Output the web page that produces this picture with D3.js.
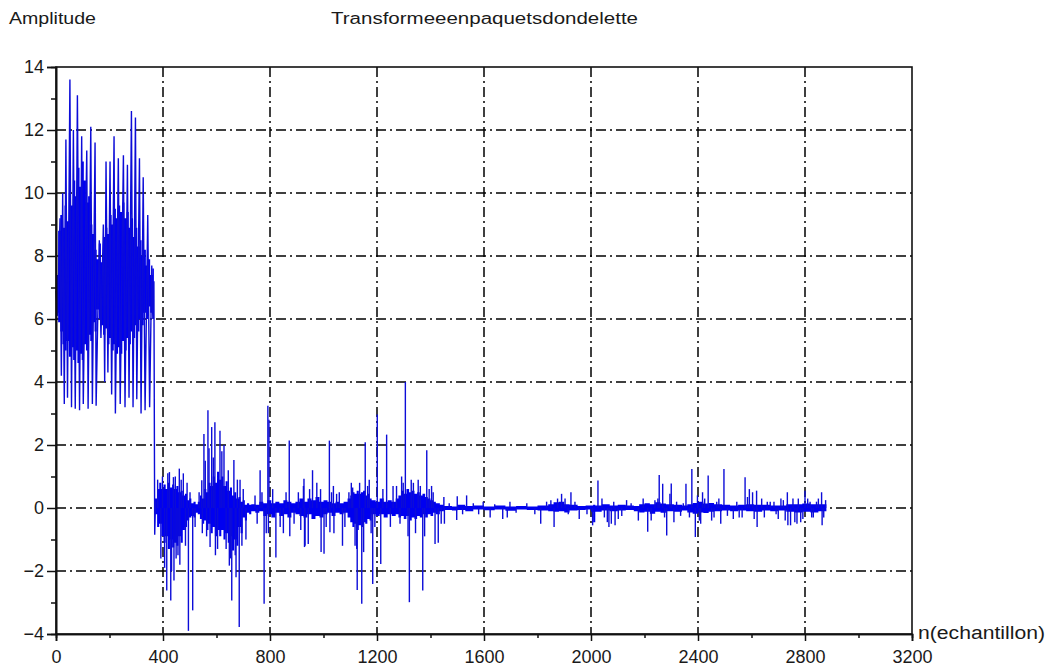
<!DOCTYPE html>
<html>
<head>
<meta charset="utf-8">
<script src="https://cdnjs.cloudflare.com/ajax/libs/d3/7.8.5/d3.min.js"></script>
<style>
  body { margin: 0; background: #fff; }
  text { font-family: "Liberation Sans", Arial, sans-serif; fill: #1a1a1a; }
</style>
</head>
<body>
<div id="chart"></div>
<script>
// axis ticks
var xTicks = [0, 400, 800, 1200, 1600, 2000, 2400, 2800, 3200];
var xMinor = [200, 600, 1000, 1400, 1800, 2200, 2600, 3000];
var yTicks = [-4, -2, 0, 2, 4, 6, 8, 10, 12, 14];
var yMinor = [-3, -1, 1, 3, 5, 7, 9, 11, 13];
var xGrid = [400, 800, 1200, 1600, 2000, 2400, 2800];
var yGrid = [-2, 0, 2, 4, 6, 8, 10, 12];

// first packet (n < 370): dense envelope [n, low, high] and the oscillating trace [n, value]
var bandA = [
  [0, 6.2, 7.4], [8, 5.9, 8.8], [16, 5.6, 9.3], [24, 5.2, 8.9], [32, 5.0, 9.6], [40, 5.3, 9.1],
  [48, 4.8, 10.0], [56, 5.1, 9.6], [64, 4.7, 10.4], [72, 5.0, 9.9], [80, 4.6, 10.8], [88, 4.9, 10.2],
  [96, 4.7, 11.0], [104, 5.2, 10.4], [112, 5.0, 9.7], [120, 5.5, 9.9], [128, 5.3, 9.0], [136, 5.9, 8.7],
  [144, 5.6, 8.2], [152, 6.3, 7.9], [160, 6.0, 8.4], [168, 5.8, 7.8], [176, 5.5, 8.6], [184, 5.7, 8.9],
  [192, 5.2, 8.7], [200, 5.4, 9.3], [208, 5.0, 9.0], [216, 5.2, 9.5], [224, 4.9, 9.2], [232, 5.1, 9.6],
  [240, 4.9, 9.4], [248, 5.3, 9.7], [256, 5.0, 9.2], [264, 5.4, 9.4], [272, 5.2, 8.9], [280, 5.6, 9.2],
  [288, 5.4, 8.6], [296, 5.8, 8.9], [304, 5.6, 8.3], [312, 6.0, 8.5], [320, 5.8, 8.0], [328, 6.2, 8.2],
  [336, 6.0, 7.7], [344, 6.4, 7.9], [352, 6.2, 7.4], [360, 6.5, 7.6], [366, 6.6, 7.3]
];
var traceA = [
  [0, 6.9], [6, 6.1], [15, 9.2], [20, 4.2], [25, 10.0], [31, 3.3], [37, 11.7], [43, 3.5],
  [52, 13.6], [58, 3.2], [65, 12.0], [72, 3.15], [80, 13.1], [88, 3.1], [96, 11.8],
  [102, 3.3], [108, 7.3], [115, 11.35], [120, 3.15], [130, 12.1], [136, 3.3], [146, 11.6],
  [150, 3.25], [156, 6.0], [162, 8.5], [168, 5.4], [177, 9.0], [182, 4.0], [187, 11.0],
  [194, 4.3], [202, 11.0], [208, 3.6], [217, 11.8], [222, 3.0], [233, 11.1], [240, 3.3],
  [252, 11.2], [258, 3.2], [267, 10.9], [273, 3.5], [282, 12.6], [288, 3.2], [297, 12.4],
  [302, 3.45], [312, 11.1], [318, 3.0], [326, 10.5], [333, 3.1], [343, 9.3], [350, 3.2],
  [358, 7.7], [362, 6.0], [366, 7.2], [369, -0.85], [372, 0.2]
];

// remaining packets (n >= 370): envelope of the dense part
var bandB = [
  [370, -0.2, 0.3], [378, -0.6, 0.6], [386, -0.5, 0.8], [394, -0.9, 0.6], [402, -1.1, 0.75],
  [410, -0.9, 0.6], [418, -1.3, 0.8], [426, -1.0, 0.65], [434, -1.25, 0.75], [442, -1.1, 0.6],
  [450, -1.2, 0.7], [458, -0.9, 0.5], [466, -1.1, 0.55], [474, -0.7, 0.4], [482, -0.6, 0.45],
  [490, -0.4, 0.25], [498, -0.3, 0.3], [506, -0.25, 0.15], [514, -0.3, 0.2], [522, -0.15, 0.12],
  [530, -0.2, 0.2], [538, -0.35, 0.4], [546, -0.5, 0.3], [554, -0.4, 0.6], [562, -0.7, 0.5],
  [570, -0.5, 0.8], [578, -0.8, 0.7], [586, -0.6, 1.0], [594, -0.9, 0.8], [602, -0.7, 1.15],
  [610, -0.9, 0.9], [618, -0.7, 1.0], [626, -1.0, 0.7], [634, -0.8, 0.85], [642, -1.1, 0.55],
  [650, -0.9, 0.65], [658, -1.35, 0.4], [666, -1.0, 0.5], [674, -1.2, 0.3], [682, -0.6, 0.35],
  [690, -0.8, 0.2], [698, -0.3, 0.25], [706, -0.4, 0.1], [714, -0.15, 0.15], [722, -0.2, 0.1],
  [730, -0.1, 0.12], [745, -0.15, 0.1], [760, -0.1, 0.2], [775, -0.25, 0.15], [790, -0.2, 0.25],
  [805, -0.3, 0.15], [820, -0.15, 0.2], [835, -0.25, 0.15], [850, -0.2, 0.25], [865, -0.3, 0.2],
  [880, -0.15, 0.15], [895, -0.2, 0.2], [910, -0.25, 0.3], [925, -0.3, 0.2], [940, -0.2, 0.3],
  [955, -0.35, 0.25], [970, -0.25, 0.35], [985, -0.3, 0.2], [1000, -0.2, 0.25], [1015, -0.15, 0.2],
  [1030, -0.25, 0.15], [1045, -0.15, 0.2], [1060, -0.2, 0.15], [1075, -0.15, 0.2], [1090, -0.3, 0.3],
  [1100, -0.45, 0.4], [1108, -0.6, 0.5], [1116, -0.5, 0.45], [1124, -0.7, 0.55], [1132, -0.55, 0.45],
  [1140, -0.6, 0.5], [1148, -0.45, 0.55], [1156, -0.5, 0.4], [1164, -0.35, 0.45], [1172, -0.4, 0.3],
  [1180, -0.2, 0.25], [1195, -0.25, 0.2], [1210, -0.2, 0.3], [1225, -0.3, 0.2], [1240, -0.2, 0.25],
  [1255, -0.25, 0.2], [1270, -0.2, 0.3], [1280, -0.3, 0.4], [1290, -0.25, 0.55], [1300, -0.35, 0.45],
  [1310, -0.25, 0.6], [1320, -0.4, 0.5], [1330, -0.3, 0.55], [1340, -0.35, 0.45], [1350, -0.25, 0.5],
  [1360, -0.3, 0.4], [1370, -0.2, 0.45], [1380, -0.3, 0.35], [1390, -0.2, 0.3], [1400, -0.25, 0.25],
  [1410, -0.15, 0.2], [1420, -0.2, 0.15], [1435, -0.1, 0.1], [1450, -0.06, 0.06], [1480, -0.08, 0.05],
  [1500, -0.06, 0.1], [1530, -0.1, 0.06], [1560, -0.05, 0.08], [1600, -0.07, 0.05], [1640, -0.05, 0.08],
  [1680, -0.09, 0.05], [1720, -0.05, 0.06], [1760, -0.06, 0.05], [1800, -0.08, 0.08], [1840, -0.1, 0.12],
  [1860, -0.12, 0.18], [1880, -0.1, 0.2], [1900, -0.14, 0.12], [1920, -0.08, 0.1], [1950, -0.06, 0.06],
  [1980, -0.05, 0.08], [2000, -0.12, 0.08], [2008, -0.45, 0.1], [2016, -0.12, 0.08], [2040, -0.08, 0.12],
  [2070, -0.1, 0.08], [2100, -0.08, 0.1], [2130, -0.06, 0.08], [2160, -0.1, 0.06], [2180, -0.14, 0.12],
  [2200, -0.12, 0.15], [2220, -0.18, 0.12], [2240, -0.12, 0.18], [2260, -0.15, 0.14], [2280, -0.1, 0.12],
  [2310, -0.12, 0.1], [2340, -0.08, 0.08], [2360, -0.14, 0.12], [2380, -0.18, 0.16], [2400, -0.14, 0.2],
  [2420, -0.16, 0.14], [2440, -0.12, 0.16], [2460, -0.1, 0.12], [2490, -0.08, 0.1], [2520, -0.1, 0.08],
  [2550, -0.08, 0.1], [2580, -0.1, 0.12], [2610, -0.12, 0.1], [2640, -0.08, 0.1], [2670, -0.1, 0.08],
  [2700, -0.08, 0.08], [2730, -0.12, 0.12], [2760, -0.14, 0.12], [2790, -0.12, 0.14], [2820, -0.14, 0.12],
  [2850, -0.1, 0.12], [2880, -0.08, 0.08]
];

// isolated spikes [n, value], drawn from zero
var spikes = [
  [380, 0.9], [392, -1.6], [398, 1.0], [406, -1.9], [414, -2.62], [418, 1.1], [424, 1.14],
  [429, -2.94], [432, -2.0], [439, 0.98], [441, -2.3], [446, 1.0], [449, -1.6], [456, -1.5],
  [461, 1.25], [463, -1.8], [468, 0.9], [476, 1.1], [484, -1.2], [490, 0.8], [495, -3.9],
  [501, 0.5], [511, -3.25], [520, -0.6], [535, 0.5], [545, 0.88], [547, -0.8], [553, 2.35],
  [558, 1.5], [563, -0.9], [568, 3.1], [572, 1.9], [576, -1.24], [582, 2.57], [588, 1.6],
  [594, 2.72], [596, -1.5], [604, -1.3], [613, 2.45], [620, 1.8], [628, 2.0], [636, -1.3],
  [644, 1.2], [648, -1.83], [652, -1.6], [657, -2.94], [665, 1.52], [670, -1.5], [673, -2.2],
  [678, 0.9], [685, -3.78], [688, 0.9], [695, -1.2], [700, 0.6], [710, -1.0],
  [744, 0.4], [752, -0.5], [763, 1.2], [770, 0.5], [778, -3.04], [786, -0.8], [792, 3.25],
  [794, -0.8], [796, 2.8], [810, 0.6], [822, -1.57], [838, -0.6], [850, -0.8], [860, 0.5],
  [872, 2.14], [874, -0.9], [890, -0.5], [906, 0.5], [915, -0.7], [925, 0.7], [927, 0.93],
  [929, -1.24], [931, -1.2], [943, -1.14], [948, 0.6], [959, 1.2], [975, 0.8], [989, 0.6],
  [991, -1.4], [1002, -1.45], [1010, -0.6], [1022, 2.14], [1024, -0.77], [1030, 0.5], [1037, 0.7],
  [1039, -0.8], [1049, 0.45], [1059, 0.5], [1071, -1.2], [1080, -0.6], [1095, 0.5], [1104, 0.8],
  [1109, 0.65], [1118, -1.2], [1124, -1.3], [1126, -2.6], [1135, 0.8], [1143, -3.04], [1150, -1.4],
  [1156, 2.09], [1165, 0.7], [1171, 0.9], [1178, -0.8], [1184, -2.41], [1192, -0.6], [1201, 2.97],
  [1214, -1.78], [1222, 0.6], [1236, 2.33], [1250, -0.6], [1260, 0.7], [1273, 0.7], [1286, -0.5],
  [1292, 1.0], [1298, 0.8], [1306, 4.0], [1316, -0.9], [1321, -2.99], [1328, 0.9], [1336, 0.8],
  [1344, -0.8], [1354, 0.9], [1362, 0.7], [1371, -2.62], [1378, -0.9], [1386, 1.83], [1395, 0.6],
  [1404, 0.7], [1410, 0.5], [1417, -1.14], [1429, -1.1], [1440, -0.5], [1450, 0.35], [1452, -0.5],
  [1470, 0.15], [1498, -0.38], [1500, 0.37], [1520, -0.2], [1535, 0.4], [1560, 0.15], [1580, -0.2],
  [1597, 0.2], [1623, -0.3], [1640, 0.12], [1670, -0.35], [1687, -0.3], [1697, 0.2], [1720, -0.15],
  [1760, 0.15], [1790, -0.2], [1812, -0.5], [1834, 0.2], [1850, 0.25], [1862, -0.6], [1875, 0.3],
  [1890, 0.45], [1903, 0.3], [1915, -0.2], [1925, 0.5], [1940, 0.2], [1956, -0.35], [1985, -0.2],
  [2006, -0.55], [2026, 0.87], [2041, 0.3], [2050, -0.3], [2061, -0.45], [2067, -0.6], [2076, -0.5],
  [2085, 0.2], [2090, -0.55], [2102, -0.35], [2115, -0.25], [2133, 0.25], [2150, 0.15], [2177, -0.4],
  [2195, 0.3], [2212, -0.75], [2225, -0.4], [2239, 0.25], [2250, 0.3], [2255, 1.05], [2268, 0.77],
  [2275, -0.3], [2283, -0.87], [2295, 0.45], [2300, 0.78], [2310, -0.45], [2320, 0.2], [2335, -0.25],
  [2345, 0.15], [2355, 0.77], [2368, -0.3], [2377, 1.24], [2390, -0.92], [2398, 0.4], [2405, -0.4],
  [2410, -0.5], [2417, 0.5], [2425, 0.3], [2438, 1.03], [2451, -0.4], [2460, -0.3], [2470, 0.2],
  [2478, 0.3], [2485, -0.5], [2497, 1.24], [2510, -0.25], [2532, -0.35], [2545, 0.2], [2554, -0.3],
  [2565, -0.3], [2576, 0.98], [2585, 0.35], [2592, 0.6], [2604, 0.5], [2610, -0.35], [2619, 0.55],
  [2621, -0.6], [2638, 0.3], [2648, -0.3], [2659, 0.2], [2670, 0.2], [2684, 0.2], [2692, -0.2],
  [2700, -0.35], [2710, 0.3], [2719, 0.25], [2726, -0.4], [2734, 0.5], [2736, -0.55], [2746, -0.55],
  [2755, 0.3], [2762, -0.45], [2770, -0.5], [2775, 0.3], [2784, -0.45], [2792, -0.35], [2800, 0.55],
  [2810, 0.3], [2819, 0.2], [2825, -0.3], [2831, -0.3], [2843, 0.2], [2850, 0.3], [2862, 0.5],
  [2864, -0.55], [2870, -0.3], [2877, 0.25]
];

var W = 1050, H = 668;
var svg = d3.select("#chart").append("svg")
    .attr("width", W)
    .attr("height", H);

var x = d3.scaleLinear().domain([0, 3200]).range([56, 912]);
var y = d3.scaleLinear().domain([-4, 14]).range([634, 67]);

// grid (dash-dot)
svg.selectAll(".hgrid").data(yGrid).enter().append("line")
    .attr("x1", x(0)).attr("x2", x(3200))
    .attr("y1", d => y(d)).attr("y2", d => y(d))
    .attr("stroke", "#000").attr("stroke-width", 1.5)
    .attr("stroke-dasharray", "10,4,2,4");
svg.selectAll(".vgrid").data(xGrid).enter().append("line")
    .attr("x1", d => x(d)).attr("x2", d => x(d))
    .attr("y1", y(14)).attr("y2", y(-4))
    .attr("stroke", "#000").attr("stroke-width", 1.5)
    .attr("stroke-dasharray", "10,4,2,4");

// signal
var area = d3.area()
    .curve(d3.curveStepAfter)
    .x(d => x(d[0]))
    .y0(d => y(d[1]))
    .y1(d => y(d[2]));
svg.append("path").datum(bandA).attr("d", area).attr("fill", "#0000f0");
svg.append("path").datum(bandB).attr("d", area).attr("fill", "#0000f0");

svg.selectAll(".spike").data(spikes).enter().append("line")
    .attr("x1", d => x(d[0])).attr("x2", d => x(d[0]))
    .attr("y1", y(0)).attr("y2", d => y(d[1]))
    .attr("stroke", "#0c0cd8").attr("stroke-width", 1.4);

var line = d3.line().x(d => x(d[0])).y(d => y(d[1]));
svg.append("path").datum(traceA).attr("d", line)
    .attr("fill", "none").attr("stroke", "#0c0cd8").attr("stroke-width", 1.4);

// frame
svg.append("rect")
    .attr("x", x(0)).attr("y", y(14))
    .attr("width", x(3200) - x(0)).attr("height", y(-4) - y(14))
    .attr("fill", "none").attr("stroke", "#111").attr("stroke-width", 1.6);

// axes
svg.append("g").attr("transform", "translate(" + x(0) + ",0)")
    .call(d3.axisLeft(y).tickValues(yTicks).tickSize(9).tickPadding(3));
svg.append("g").attr("transform", "translate(" + x(0) + ",0)")
    .call(d3.axisLeft(y).tickValues(yMinor).tickSize(5).tickFormat(""));
svg.append("g").attr("transform", "translate(0," + y(-4) + ")")
    .call(d3.axisBottom(x).tickValues(xTicks).tickSize(7).tickPadding(9).tickFormat(d3.format("d")));
svg.append("g").attr("transform", "translate(0," + y(-4) + ")")
    .call(d3.axisBottom(x).tickValues(xMinor).tickSize(4).tickFormat(""));

svg.selectAll(".domain").attr("stroke", "#111").attr("stroke-width", 1.6);
svg.selectAll(".tick line").attr("stroke", "#111").attr("stroke-width", 1.5);
svg.selectAll(".tick text")
    .style("font-family", "'Liberation Sans', Arial, sans-serif")
    .style("font-size", "18px")
    .attr("fill", "#111");

// labels
svg.append("text").attr("x", 9).attr("y", 24)
    .attr("textLength", 87).attr("lengthAdjust", "spacingAndGlyphs")
    .style("font-size", "16px").text("Amplitude");
svg.append("text").attr("x", 331).attr("y", 24)
    .attr("textLength", 307).attr("lengthAdjust", "spacingAndGlyphs")
    .style("font-size", "16px").text("Transformeeenpaquetsdondelette");
svg.append("text").attr("x", 918).attr("y", 639)
    .attr("textLength", 127).attr("lengthAdjust", "spacingAndGlyphs")
    .style("font-size", "18px").text("n(echantillon)");
</script>
</body>
</html>
